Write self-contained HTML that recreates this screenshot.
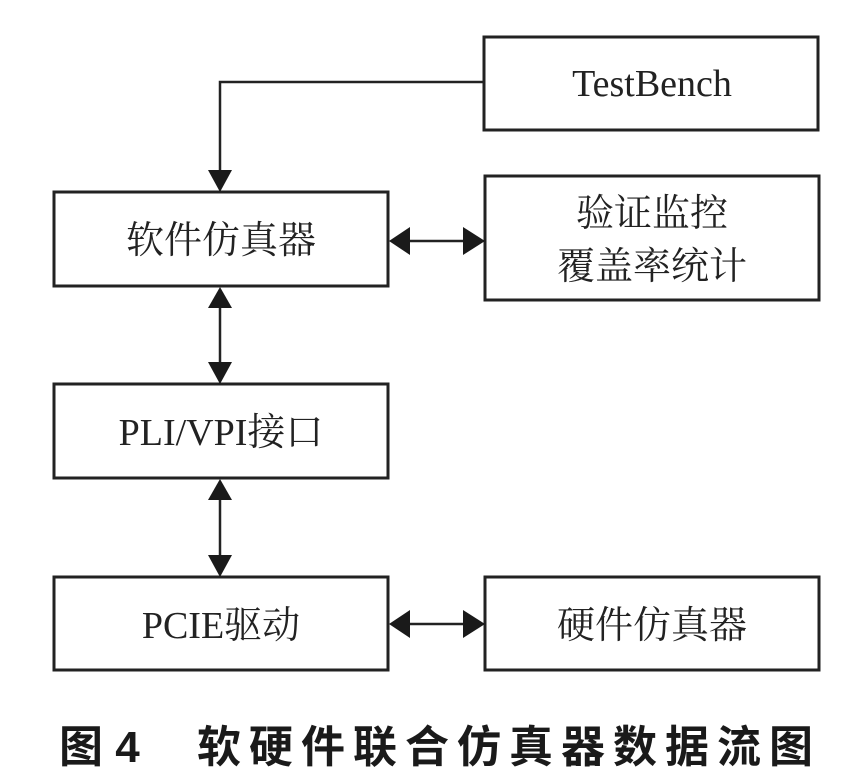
<!DOCTYPE html>
<html><head><meta charset="utf-8"><style>
html,body{margin:0;padding:0;background:#fff;width:843px;height:779px;overflow:hidden}
svg{display:block}
.t{font-family:"Liberation Serif","Noto Serif CJK SC",serif;font-size:38px;fill:#222}
.c{font-family:"Liberation Sans","Noto Sans CJK SC",sans-serif;font-size:44px;font-weight:bold;fill:#1a1a1a}
</style></head><body>
<svg width="843" height="779" viewBox="0 0 843 779">
<g fill="none" stroke="#222" stroke-width="3">
<rect x="484" y="37" width="334" height="93"/>
<rect x="54" y="192" width="334" height="94"/>
<rect x="485" y="176" width="334" height="124"/>
<rect x="54" y="384" width="334" height="94"/>
<rect x="54" y="577" width="334" height="93"/>
<rect x="485" y="577" width="334" height="93"/>
</g>
<g stroke="#222" stroke-width="2.5" fill="none">
<polyline points="484,82 220,82 220,175"/>
<line x1="220" y1="300" x2="220" y2="370"/>
<line x1="220" y1="492" x2="220" y2="562"/>
<line x1="405" y1="241" x2="468" y2="241"/>
<line x1="405" y1="624" x2="468" y2="624"/>
</g>
<g fill="#1a1a1a">
<polygon points="208,170 232,170 220,192"/>
<polygon points="208,308 232,308 220,287"/>
<polygon points="208,362 232,362 220,384"/>
<polygon points="208,500 232,500 220,479"/>
<polygon points="208,555 232,555 220,577"/>
<polygon points="410,227 410,255 389,241"/>
<polygon points="463,227 463,255 485,241"/>
<polygon points="410,610 410,638 389,624"/>
<polygon points="463,610 463,638 485,624"/>
</g>
<text class="t" x="652" y="96" text-anchor="middle">TestBench</text>
<text class="t" x="221" y="253" text-anchor="middle">软件仿真器</text>
<text class="t" x="652" y="226" text-anchor="middle">验证监控</text>
<text class="t" x="652" y="279" text-anchor="middle">覆盖率统计</text>
<text class="t" x="221" y="445" text-anchor="middle">PLI/VPI接口</text>
<text class="t" x="221" y="638" text-anchor="middle">PCIE驱动</text>
<text class="t" x="652" y="638" text-anchor="middle">硬件仿真器</text>
<text class="c" x="59" y="762">图 4</text>
<text class="c" x="197" y="762" letter-spacing="8">软硬件联合仿真器数据流图</text>
</svg>
</body></html>
